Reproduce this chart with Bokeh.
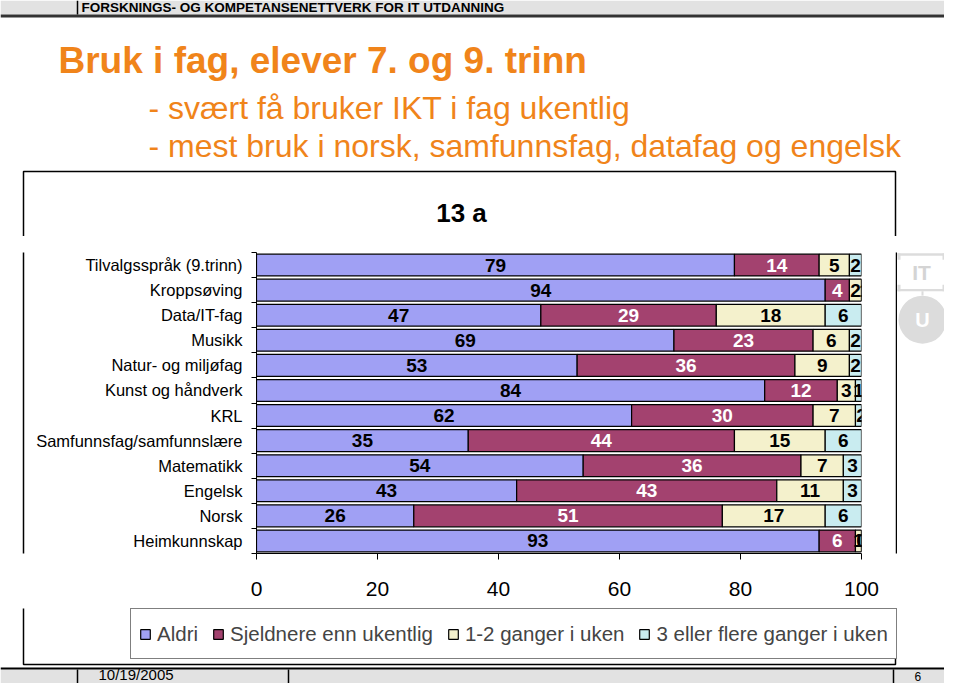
from bokeh.plotting import figure
from bokeh.models import (ColumnDataSource, Range1d, FixedTicker, Legend, LegendItem)
from bokeh.layouts import column, row
from bokeh.embed import file_html
from bokeh.resources import INLINE
from bokeh.core.properties import value
import numpy as np

# ---------------- data ----------------
categories = ["Tilvalgsspråk (9.trinn)", "Kroppsøving", "Data/IT-fag", "Musikk",
              "Natur- og miljøfag", "Kunst og håndverk", "KRL",
              "Samfunnsfag/samfunnslære", "Matematikk", "Engelsk", "Norsk",
              "Heimkunnskap"]
aldri = [79, 94, 47, 69, 53, 84, 62, 35, 54, 43, 26, 93]
sjeldnere = [14, 4, 29, 23, 36, 12, 30, 44, 36, 43, 51, 6]
ganger_1_2 = [5, 2, 18, 6, 9, 3, 7, 15, 7, 11, 17, 1]
ganger_3_pluss = [2, 1, 6, 2, 2, 1, 2, 6, 3, 3, 6, 0]
series_names = ["Aldri", "Sjeldnere enn ukentlig", "1-2 ganger i uken",
                "3 eller flere ganger i uken"]
x_ticks = [0, 20, 40, 60, 80, 100]

colors = ["#A0A0F4", "#A3426F", "#F4F1CC", "#C9ECF0"]
label_colors = ["black", "white", "black", "black"]
FONT = "Liberation Sans"
ORANGE = "#F0841A"
GRAY_BAND = "#E2E2E2"
LOGO = "#DCDCDC"

W = 944
TOP_H = 236          # header / title strip
MID_H = 372          # chart strip
BOT_H = 683 - TOP_H - MID_H


def canvas(width, height, x0, y0):
    """A figure whose frame fills the whole canvas, in pixel coordinates."""
    f = figure(width=width, height=height, output_backend="svg",
               toolbar_location=None, x_axis_location=None, y_axis_location=None,
               x_range=Range1d(x0, x0 + width), y_range=Range1d(y0 + height, y0),
               min_border=0)
    f.outline_line_color = None
    f.grid.visible = False
    f.background_fill_color = "white"
    f.border_fill_color = "white"
    return f


def txt(f, x, y, s, size, color="black", bold=False, align="left",
        baseline="alphabetic"):
    f.text(x=[x], y=[y], text=[s], text_font=value(FONT), text_font_size=size,
           text_color=color, text_font_style="bold" if bold else "normal",
           text_align=align, text_baseline=baseline)


# ---------------- top strip ----------------
T = canvas(W, TOP_H, 0, 0)
T.quad(left=[0], right=[W], top=[0], bottom=[14], fill_color=GRAY_BAND, line_color=None)
T.quad(left=[0], right=[W], top=[14], bottom=[17], fill_color="#333333", line_color=None)
T.segment(x0=[77], y0=[0], x1=[77], y1=[14], line_color="black", line_width=1.5)
txt(T, 81, 7, "FORSKNINGS- OG KOMPETANSENETTVERK FOR IT UTDANNING", "13.5px",
    bold=True, baseline="middle")
txt(T, 58, 60, "Bruk i fag, elever 7. og 9. trinn", "37px", color=ORANGE, bold=True)
txt(T, 148, 107, "- svært få bruker IKT i fag ukentlig", "32px", color=ORANGE)
txt(T, 148, 145, "- mest bruk i norsk, samfunnsfag, datafag og engelsk", "32px",
    color=ORANGE)
# chart box (top part)
T.multi_line(xs=[[23, 23, 895, 895]], ys=[[TOP_H + 2, 171, 171, TOP_H + 2]],
             line_color="black", line_width=1.5)
txt(T, 461, 212, "13 a", "26px", bold=True, align="center")

# ---------------- middle strip ----------------
L = canvas(30, MID_H, 0, TOP_H)
L.segment(x0=[23], y0=[TOP_H - 2], x1=[23], y1=[TOP_H + MID_H + 2],
          line_color="black", line_width=1.5)

R = canvas(W - 895, MID_H, 895, TOP_H)
R.segment(x0=[895.75], y0=[TOP_H - 2], x1=[895.75], y1=[TOP_H + MID_H + 2],
          line_color="black", line_width=1.5)
# IT logo
R.quad(left=[897, 897, 897, 942, 897, 942, 921],
       right=[945, 945, 900, 945, 900, 945, 923],
       top=[237, 281, 237, 237, 276, 276, 284],
       bottom=[240, 284, 245, 245, 284, 284, 289],
       fill_color=LOGO, line_color=None)
txt(R, 921, 261, "IT", "21px", color="#D4D4D4", bold=True, align="center",
    baseline="middle")
R.circle(x=[922], y=[319], radius=24, fill_color=LOGO, line_color=None)
txt(R, 922, 320, "U", "20px", color="white", bold=True, align="center",
    baseline="middle")

n = len(categories)
ypos = list(range(n - 1, -1, -1))   # first category at top
src = ColumnDataSource(dict(y=ypos, aldri=aldri, sjeldnere=sjeldnere,
                            g12=ganger_1_2, g3=ganger_3_pluss))
stackers = ["aldri", "sjeldnere", "g12", "g3"]

C = figure(width=895 - 30, height=MID_H, output_backend="svg", toolbar_location=None,
           x_range=Range1d(0, 100), y_range=Range1d(-0.5, n - 0.5),
           min_border_left=226, min_border_right=34, min_border_top=16,
           min_border_bottom=55)
C.outline_line_color = None
C.xgrid.visible = False
C.ygrid.visible = False
C.background_fill_color = "white"
C.border_fill_color = "white"

renderers = C.hbar_stack(stackers, y="y", height=0.87, color=colors,
                         line_color="black", line_width=1.2, source=src)

series = [aldri, sjeldnere, ganger_1_2, ganger_3_pluss]
cum = np.zeros(n)
tx, ty, tt, tc = [], [], [], []
for k, s in enumerate(series):
    s = np.array(s, dtype=float)
    for i in range(n):
        tx.append(cum[i] + s[i] / 2.0)
        ty.append(ypos[i])
        tt.append(str(int(s[i])))
        tc.append(label_colors[k])
    cum += s
lab_src = ColumnDataSource(dict(x=tx, y=ty, text=tt, color=tc))
C.text(x="x", y="y", text="text", source=lab_src, text_color="color",
       text_align="center", text_baseline="middle",
       text_font=value(FONT), text_font_style="bold", text_font_size="19px")

C.xaxis.ticker = FixedTicker(ticks=x_ticks, minor_ticks=[])
C.xaxis.major_label_text_font = FONT
C.xaxis.major_label_text_font_size = "21px"
C.xaxis.major_label_text_color = "black"
C.xaxis.major_tick_out = 6
C.xaxis.major_tick_in = 0
C.xaxis.major_label_standoff = 22
C.xaxis.axis_line_color = "black"
C.xaxis.major_tick_line_color = "black"

C.yaxis.ticker = FixedTicker(ticks=ypos, minor_ticks=[v - 0.5 for v in range(n + 1)])
C.yaxis.major_label_overrides = {y: c for y, c in zip(ypos, categories)}
C.yaxis.major_label_text_font = FONT
C.yaxis.major_label_text_font_size = "16.5px"
C.yaxis.major_label_text_color = "black"
C.yaxis.major_tick_out = 0
C.yaxis.major_tick_in = 0
C.yaxis.minor_tick_out = 5
C.yaxis.minor_tick_in = 0
C.yaxis.minor_tick_line_color = "black"
C.yaxis.major_label_standoff = 9
C.yaxis.axis_line_color = "black"

# ---------------- bottom strip ----------------
y0b = TOP_H + MID_H
B = canvas(W, BOT_H, 0, y0b)
B.multi_line(xs=[[23, 23, 895, 895]], ys=[[y0b - 2, 664, 664, y0b - 2]],
             line_color="black", line_width=1.5)
B.quad(left=[0], right=[W], top=[669], bottom=[683], fill_color=GRAY_BAND,
       line_color=None)
B.segment(x0=[0], y0=[668], x1=[W], y1=[668], line_color="black", line_width=1.8)
B.segment(x0=[77, 288, 893], y0=[669, 669, 669], x1=[77, 288, 893],
          y1=[683, 683, 683], line_color="black", line_width=1.5)
txt(B, 98, 674, "10/19/2005", "15px", baseline="middle")
txt(B, 914, 676, "6", "12px", baseline="middle")

# legend: the same stacked series, hidden in this strip, only used for swatches
leg_r = B.hbar_stack(stackers, y="y", height=0.87, color=colors,
                     line_color="black", line_width=1.2, source=src)
for r in leg_r:
    r.visible = False
legend = Legend(items=[LegendItem(label=nm, renderers=[r])
                       for nm, r in zip(series_names, leg_r)],
                location=(130, 683 - 659), orientation="horizontal",
                label_text_font=FONT, label_text_font_size="20.5px",
                glyph_width=12, glyph_height=12, label_standoff=6, spacing=14,
                padding=8, margin=0, label_height=33,
                inactive_fill_alpha=0.0,
                border_line_color="black", border_line_width=1.3,
                background_fill_color="white", background_fill_alpha=1.0)
B.add_layout(legend)

layout = column(T, row(L, C, R), B)
open("out.html", "w").write(file_html(layout, INLINE))
